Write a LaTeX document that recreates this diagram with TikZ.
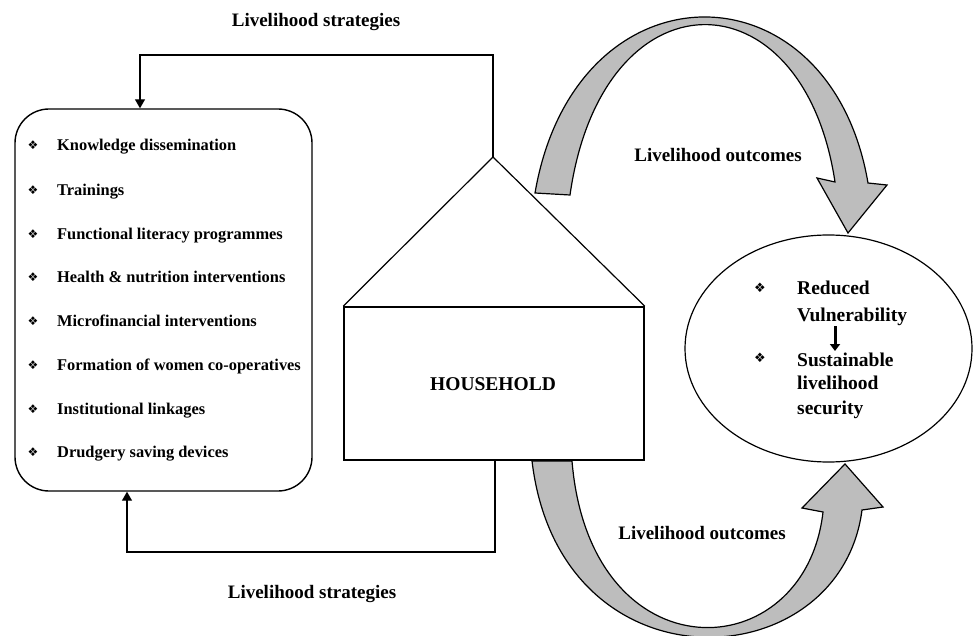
\documentclass[tikz,border=0pt]{standalone}
\usepackage{fontspec}
\setmainfont{Liberation Serif}
\newfontfamily\symfont{DejaVu Sans}
\usetikzlibrary{shapes.geometric,arrows.meta}
\definecolor{arrowgray}{HTML}{BDBDBD}
\tikzset{
  lbl/.style={font=\fontsize{19}{22}\selectfont\bfseries, inner sep=0pt},
  itemtxt/.style={font=\fontsize{16.4}{19}\selectfont\bfseries, anchor=base west, inner sep=0pt},
  outtxt/.style={font=\fontsize{19.5}{22}\selectfont\bfseries, anchor=base west, inner sep=0pt},
  bul/.style={font=\symfont\fontsize{12}{12}\selectfont, inner sep=0pt},
  conn/.style={line width=1.2pt, -{Triangle[length=9pt,width=10pt]}},
  bigarrow/.style={fill=arrowgray, draw=black, line width=1.2pt, line join=miter},
}
\begin{document}
\begin{tikzpicture}[x=1pt,y=-1pt]
\useasboundingbox (0,0) rectangle (977,636);

% list box
\node[draw, line width=1.4pt, rounded corners=34pt, minimum width=297pt, minimum height=382pt] (box) at (163.5,300) {};
\foreach \i/\y/\t in {1/145/Knowledge dissemination, 2/190/Trainings, 3/234/Functional literacy programmes, 4/277/Health \& nutrition interventions, 5/321/Microfinancial interventions, 6/365/Formation of women co-operatives, 7/409/Institutional linkages, 8/452/Drudgery saving devices}{
  \node[bul] (b\i) at (33,\y) {❖};
  \node[itemtxt] (t\i) at (57,\y+5.5) {\t};
}

% house
\node[draw, line width=1.6pt, minimum width=300pt, minimum height=153pt] (house) at (494,383.5) {};
\node[font=\fontsize{19.5}{22}\selectfont\bfseries, inner sep=0pt] (hh) at (493,384) {HOUSEHOLD};
\coordinate (apex) at (493,157);
\draw[line width=1.2pt, line join=miter] (house.north west) -- (apex) -- (house.north east);

% outcome ellipse
\node[draw, ellipse, line width=1.2pt, minimum width=287pt, minimum height=227pt] (out) at (828.5,348.5) {};
\node[bul, font=\symfont\fontsize{13}{13}\selectfont] (ob1) at (760,288) {❖};
\node[outtxt] (red) at (797,294.5) {Reduced};
\node[outtxt] (vul) at (797,321.5) {Vulnerability};
\node[bul, font=\symfont\fontsize{13}{13}\selectfont] (ob2) at (760,358) {❖};
\node[outtxt] (sus) at (797,366.5) {Sustainable};
\node[outtxt] (liv) at (797,389.5) {livelihood};
\node[outtxt] (sec) at (797,414.5) {security};
\coordinate (ax) at (835,0);
\draw[line width=3pt, -{Triangle[length=7pt,width=10pt]}] (ax |- 0,326) -- (ax |- 0,351);

% connectors (livelihood strategies)
\coordinate (topL) at (140,55);
\coordinate (botL) at (127,552);
\draw[conn] (apex) |- (topL) -- (topL |- box.north);
\draw[conn] (house.south -| 495,0) |- (botL) -- (botL |- box.south);

\node[lbl] (ls1) at (316,22) {Livelihood strategies};
\node[lbl] (ls2) at (312,594) {Livelihood strategies};

% big curved arrows
\draw[bigarrow] (535,193) .. controls (575,-40) and (830,-40) .. (868,183) -- (887,185) -- (848,233) -- (817,178) -- (835,182) .. controls (803,-30) and (602,-30) .. (570,195) -- cycle;
\draw[bigarrow] (532,461) .. controls (560,695) and (840,680) .. (862,510) -- (883,507) -- (845,464) -- (802,508) -- (823,512) .. controls (805,670) and (590,678) .. (572,461) -- cycle;

\node[lbl] (lo1) at (718,155) {Livelihood outcomes};
\node[lbl] (lo2) at (702,533) {Livelihood outcomes};
\end{tikzpicture}
\end{document}
